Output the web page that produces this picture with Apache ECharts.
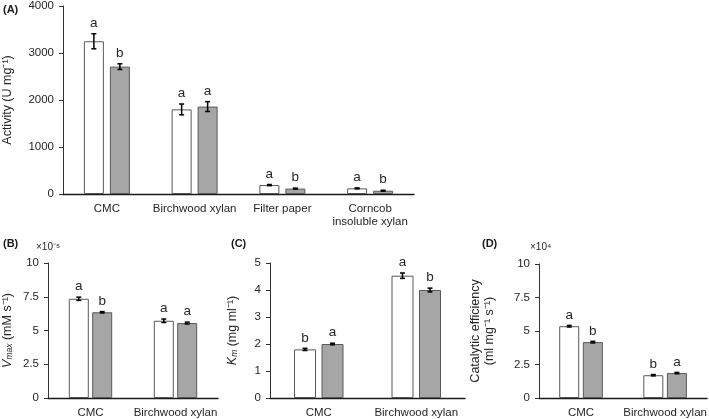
<!DOCTYPE html>
<html>
<head>
<meta charset="utf-8">
<script src="https://cdn.jsdelivr.net/npm/echarts@6/dist/echarts.min.js"></script>
<style>html,body{margin:0;padding:0;background:#fff}#c{width:709px;height:419px}</style>
</head>
<body>
<div id="c"></div>
<script>
// ---------- data ----------
const catsA = ['CMC', 'Birchwood xylan', 'Filter paper', 'Corncob\ninsoluble xylan'];
const catsK = ['CMC', 'Birchwood xylan'];

const actWhite = [3250, 1800, 190, 120];
const actWhiteErr = [160, 115, 12, 10];
const actWhiteLet = ['a', 'a', 'a', 'a'];
const actGray = [2710, 1860, 115, 70];
const actGrayErr = [60, 105, 10, 10];
const actGrayLet = ['b', 'a', 'b', 'b'];

const vmaxWhite = [7.35, 5.72];
const vmaxWhiteErr = [0.12, 0.13];
const vmaxWhiteLet = ['a', 'a'];
const vmaxGray = [6.35, 5.55];
const vmaxGrayErr = [0.05, 0.07];
const vmaxGrayLet = ['b', 'a'];

const kmWhite = [1.80, 4.53];
const kmWhiteErr = [0.04, 0.10];
const kmWhiteLet = ['b', 'a'];
const kmGray = [2.00, 4.00];
const kmGrayErr = [0.03, 0.07];
const kmGrayLet = ['a', 'b'];

const effWhite = [5.36, 1.70];
const effWhiteErr = [0.06, 0.05];
const effWhiteLet = ['a', 'b'];
const effGray = [4.17, 1.86];
const effGrayErr = [0.06, 0.05];
const effGrayLet = ['b', 'a'];

// ---------- styles ----------
const FONT = 'Liberation Sans, Arial, sans-serif';
const TXT = '#262626';

function xAxis(gi, cats, fs) {
  return {
    type: 'category', gridIndex: gi, data: cats,
    axisLine: { lineStyle: { color: '#1a1a1a', width: 1.3 } },
    axisTick: { show: false },
    axisLabel: { interval: 0, color: TXT, fontFamily: FONT, fontSize: fs, margin: 8, lineHeight: 13 }
  };
}
function yAxis(gi, max, interval, name, nameGap, extra) {
  return Object.assign({
    type: 'value', gridIndex: gi, min: 0, max: max, interval: interval,
    splitLine: { show: false },
    axisLine: { show: true, lineStyle: { color: '#333', width: 1 } },
    axisTick: { show: true, inside: false, length: 4, lineStyle: { color: '#333' } },
    axisLabel: { color: TXT, fontFamily: FONT, fontSize: 11.5, margin: 9, formatter: v => String(v) },
    name: name, nameLocation: 'middle', nameGap: nameGap, nameRotate: 90,
    nameTextStyle: { color: TXT, fontFamily: FONT, fontSize: 12.5 }
  }, extra || {});
}
function bars(gi, vals, color, bw, gap) {
  return {
    type: 'bar', xAxisIndex: gi, yAxisIndex: gi, data: vals,
    barWidth: bw, barGap: gap,
    itemStyle: { color: color, borderColor: '#595959', borderWidth: 1 },
    silent: true, z: 2
  };
}
function errs(gi, vals, err, letters, offset) {
  return {
    type: 'custom', xAxisIndex: gi, yAxisIndex: gi,
    data: vals.map((v, i) => [i, v, err[i]]),
    z: 5, silent: true,
    renderItem: function (params, api) {
      const c = api.value(0), v = api.value(1), e = api.value(2);
      const top = api.coord([c, v + e]);
      const bot = api.coord([c, v - e]);
      const x = top[0] + offset;
      const cap = 2.5;
      return {
        type: 'group',
        children: [
          { type: 'line', shape: { x1: x, y1: top[1], x2: x, y2: bot[1] }, style: { stroke: '#000', lineWidth: 1.5 } },
          { type: 'line', shape: { x1: x - cap, y1: top[1], x2: x + cap, y2: top[1] }, style: { stroke: '#000', lineWidth: 1.5 } },
          { type: 'line', shape: { x1: x - cap, y1: bot[1], x2: x + cap, y2: bot[1] }, style: { stroke: '#000', lineWidth: 1.5 } },
          { type: 'text', style: { x: x, y: top[1] - 3.5, text: letters[params.dataIndex], fill: TXT, font: '13.5px ' + FONT, align: 'center', verticalAlign: 'bottom' } }
        ]
      };
    }
  };
}

const subRich = {
  i: { fontStyle: 'italic', fontSize: 12.5, fontFamily: FONT, color: TXT },
  s: { fontStyle: 'italic', fontSize: 8.5, fontFamily: FONT, color: TXT, verticalAlign: 'bottom', padding: [4, 0, 0, 0] }
};

const chart = echarts.init(document.getElementById('c'), null, { renderer: 'canvas' });
chart.setOption({
  animation: false,
  backgroundColor: '#fff',
  grid: [
    { left: 62, top: 6, width: 352, height: 188 },
    { left: 42, top: 263, width: 176, height: 135 },
    { left: 270, top: 263, width: 195, height: 136 },
    { left: 539, top: 264, width: 172, height: 136 }
  ],
  xAxis: [
    xAxis(0, catsA, 11.5),
    xAxis(1, catsK, 11.5),
    xAxis(2, catsK, 11.5),
    xAxis(3, catsK, 11.5)
  ],
  yAxis: [
    yAxis(0, 4000, 1000, 'Activity (U mg⁻¹)', 49),
    yAxis(1, 10, 2.5, '{i|V}{s|max} (mM s⁻¹)', 34, {
      nameTextStyle: { color: TXT, fontFamily: FONT, fontSize: 12.5, rich: subRich }
    }),
    yAxis(2, 5, 1, '{i|K}{s|m} (mg ml⁻¹)', 31, {
      nameTextStyle: { color: TXT, fontFamily: FONT, fontSize: 12.5, rich: subRich }
    }),
    yAxis(3, 10, 2.5, 'Catalytic efficiency\n(ml mg⁻¹ s⁻¹)', 42, {
      nameTextStyle: { color: TXT, fontFamily: FONT, fontSize: 12.5, lineHeight: 14 }
    })
  ],
  graphic: [
    { type: 'text', left: 3, top: 4, style: { text: '(A)', font: 'bold 11px ' + FONT, fill: '#1a1a1a' } },
    { type: 'text', left: 3, top: 238, style: { text: '(B)', font: 'bold 11px ' + FONT, fill: '#1a1a1a' } },
    { type: 'text', left: 231, top: 238, style: { text: '(C)', font: 'bold 11px ' + FONT, fill: '#1a1a1a' } },
    { type: 'text', left: 482, top: 238, style: { text: '(D)', font: 'bold 11px ' + FONT, fill: '#1a1a1a' } },
    { type: 'text', left: 36, top: 242, style: { text: '×10⁻⁵', font: '10px ' + FONT, fill: TXT } },
    { type: 'text', left: 530, top: 242, style: { text: '×10⁴', font: '10px ' + FONT, fill: TXT } }
  ],
  series: [
    bars(0, actWhite, '#ffffff', 20, '30%'),
    bars(0, actGray, '#a6a6a6', 20, '30%'),
    errs(0, actWhite, actWhiteErr, actWhiteLet, -13),
    errs(0, actGray, actGrayErr, actGrayLet, 13),

    bars(1, vmaxWhite, '#ffffff', 20, '17%'),
    bars(1, vmaxGray, '#a6a6a6', 20, '17%'),
    errs(1, vmaxWhite, vmaxWhiteErr, vmaxWhiteLet, -11.7),
    errs(1, vmaxGray, vmaxGrayErr, vmaxGrayLet, 11.7),

    bars(2, kmWhite, '#ffffff', 22, '25%'),
    bars(2, kmGray, '#a6a6a6', 22, '25%'),
    errs(2, kmWhite, kmWhiteErr, kmWhiteLet, -13.75),
    errs(2, kmGray, kmGrayErr, kmGrayLet, 13.75),

    bars(3, effWhite, '#ffffff', 20, '18%'),
    bars(3, effGray, '#a6a6a6', 20, '18%'),
    errs(3, effWhite, effWhiteErr, effWhiteLet, -11.8),
    errs(3, effGray, effGrayErr, effGrayLet, 11.8)
  ]
});
</script>
</body>
</html>
